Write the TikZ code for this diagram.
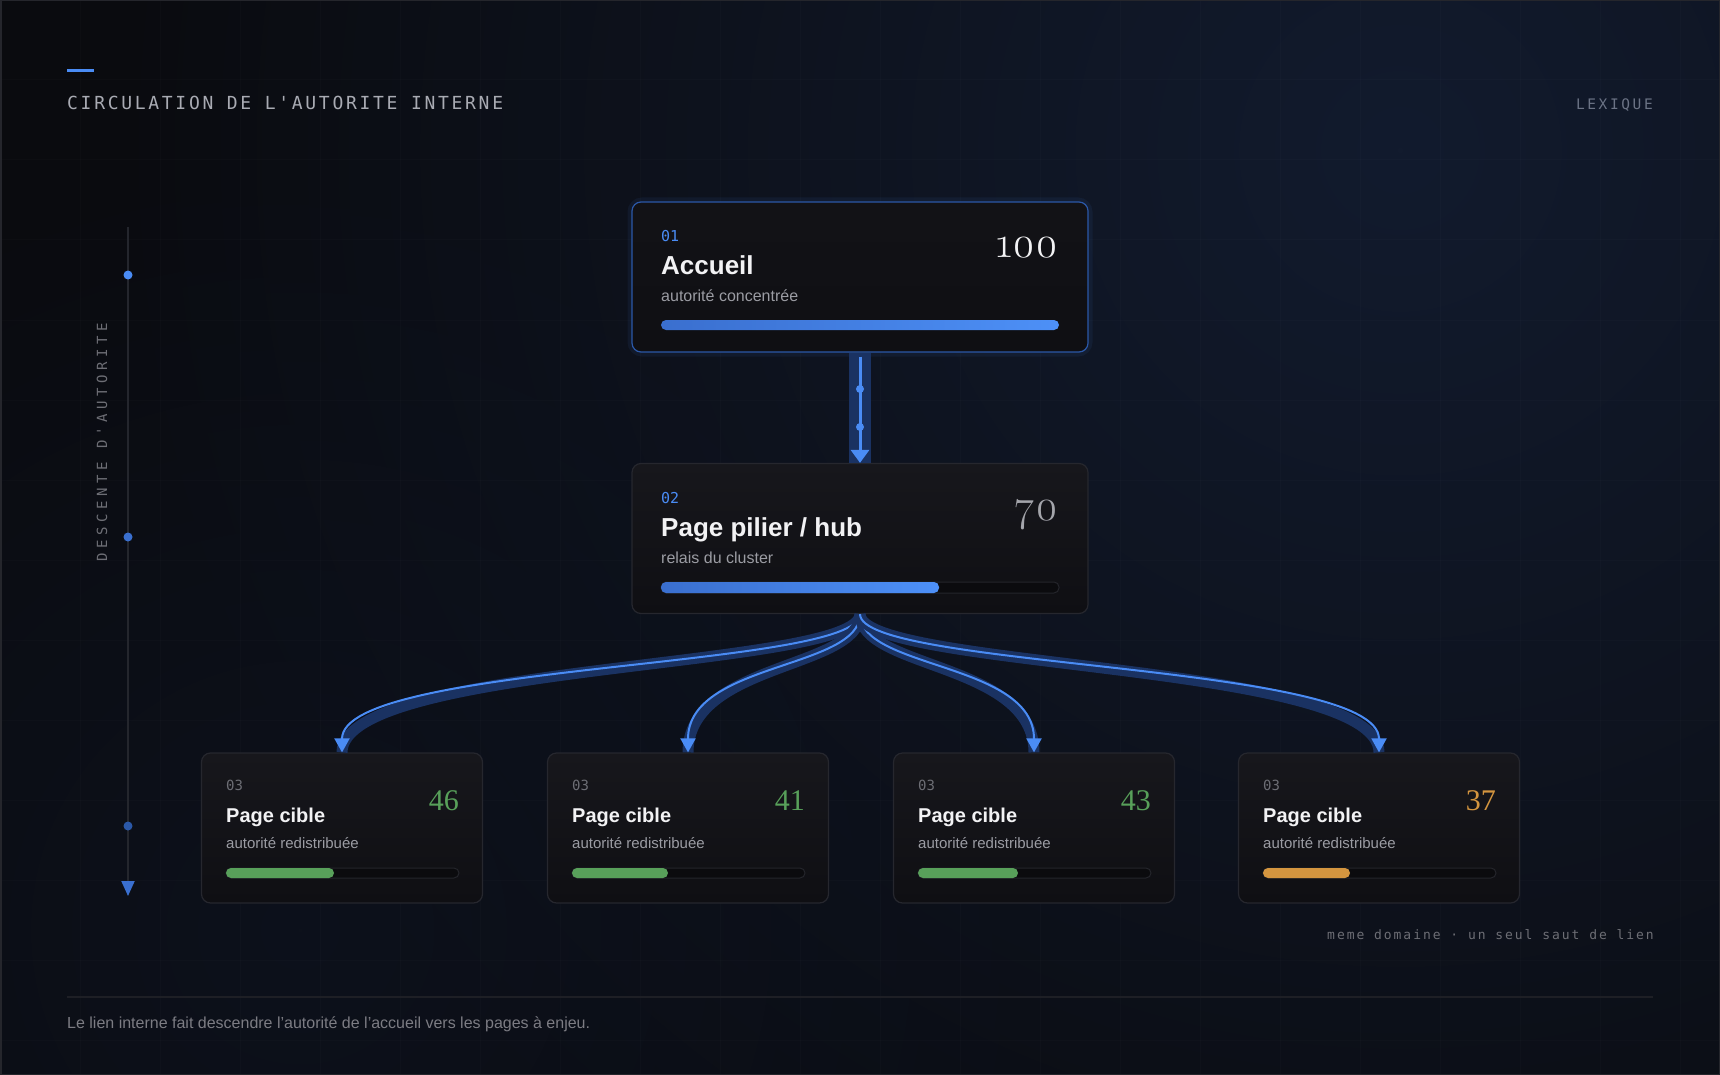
\documentclass[tikz,border=0pt]{standalone}
\usepackage{fontspec}
\setmainfont{Liberation Sans}
\newfontfamily\monof{DejaVu Sans Mono}
\newfontfamily\titlef{DejaVu Sans Mono}[LetterSpace=15]
\newfontfamily\lexf{DejaVu Sans Mono}[LetterSpace=18]
\newfontfamily\railf{DejaVu Sans Mono}[LetterSpace=33]
\newfontfamily\notef{DejaVu Sans Mono}[LetterSpace=15]
\newfontfamily\oldnum{Latin Modern Roman}[Numbers=OldStyle]
\newfontfamily\serifnum{Liberation Serif}
\usetikzlibrary{arrows.meta,fadings}
\definecolor{bgdark}{HTML}{0A0B0F}
\definecolor{glowblue}{HTML}{121B2E}
\definecolor{glowlow}{HTML}{0F1524}
\definecolor{cardtop}{HTML}{17171C}
\definecolor{cardbot}{HTML}{0F0F13}
\definecolor{cardline}{HTML}{26272E}
\definecolor{accline}{HTML}{2B58A8}
\definecolor{accent}{HTML}{4A8CF5}
\definecolor{bandblue}{HTML}{1A3262}
\definecolor{barA}{HTML}{3A6FCF}
\definecolor{barB}{HTML}{4D90F7}
\definecolor{textmain}{HTML}{F2F2F4}
\definecolor{textsub}{HTML}{9B9CA3}
\definecolor{monogrey}{HTML}{6D6E75}
\definecolor{titlegrey}{HTML}{A9ABB3}
\definecolor{lexgrey}{HTML}{6B7385}
\definecolor{numgrey}{HTML}{A4A5AB}
\definecolor{okgreen}{HTML}{58A05A}
\definecolor{warnorange}{HTML}{D4953F}
\definecolor{trackfill}{HTML}{0B0B0E}
\definecolor{trackline}{HTML}{24252B}
\definecolor{railgrey}{HTML}{24262D}
\definecolor{edgegrey}{HTML}{25262C}
\tikzfading[name=glowfade, inner color=transparent!0, outer color=transparent!100]

\begin{document}
\begin{tikzpicture}[x=1pt, y=-1pt,
  card/.style={draw=cardline, line width=1.2pt, rounded corners=9pt, top color=cardtop, bottom color=cardbot, minimum width=456pt, minimum height=150pt, inner sep=0pt},
  small/.style={card, minimum width=281pt},
  band/.style={draw=bandblue, line width=11pt},
  core/.style={draw=accent, line width=2pt},
  tag/.style={font=\monof\fontsize{15}{18}\selectfont, anchor=base west, inner sep=0pt},
  head/.style={font=\bfseries\fontsize{26}{30}\selectfont, text=textmain, anchor=base west, inner sep=0pt},
  sub/.style={font=\fontsize{16}{19}\selectfont, text=textsub, anchor=base west, inner sep=0pt},
  bignum/.style={font=\oldnum\fontsize{44}{48}\selectfont, anchor=base east, inner sep=0pt},
  smallnum/.style={font=\serifnum\fontsize{30}{34}\selectfont, anchor=base east, inner sep=0pt},
  track/.style={draw=trackline, fill=trackfill, line width=1pt, rounded corners=5pt}]
  \useasboundingbox (0,0) rectangle (1720,1075);
  \fill[bgdark] (0,0) rectangle (1720,1075);
  \begin{scope}
    \clip (0,0) rectangle (1720,1075);
    \fill[glowblue, path fading=glowfade] (1400,150) circle (1300pt);
    \fill[glowlow, path fading=glowfade, opacity=0.6] (300,930) circle (800pt);
    \foreach \g in {80,160,...,1680} {\draw[white, opacity=0.014, line width=1pt] (\g,0) -- (\g,1075);}
    \foreach \g in {80,160,...,1040} {\draw[white, opacity=0.014, line width=1pt] (0,\g) -- (1720,\g);}
  \end{scope}
  \draw[edgegrey, line width=1.5pt] (0.75,0.75) rectangle (1719.25,1074.25);

  \draw[accent, line width=3pt] (67,71) -- (94,71);
  \node[font=\titlef\fontsize{18}{22}\selectfont, text=titlegrey, anchor=base west, inner sep=0pt] (title) at (67,110) {CIRCULATION DE L'AUTORITE INTERNE};
  \node[font=\lexf\fontsize{14.5}{18}\selectfont, text=lexgrey, anchor=base east, inner sep=0pt] (lexique) at (1653,110) {LEXIQUE};

  \coordinate (railtop) at (128,227);
  \coordinate (railend) at (128,896);
  \draw[railgrey, line width=2pt, -{Triangle[width=13pt,length=15pt,color=barA]}] (railtop) -- (railend);
  \foreach \y/\c in {275/accent, 537/barA, 826/accline} {\fill[\c] (128,\y) circle (4.5pt);}
  \node[font=\railf\fontsize{14}{17}\selectfont, text=monogrey, rotate=90, inner sep=0pt] (descent) at (102,442) {DESCENTE D'AUTORITE};

  \node[draw=accent, opacity=0.07, line width=7pt, rounded corners=11pt, minimum width=458pt, minimum height=152pt] (homeglow) at (860,277) {};
  \node[card, draw=accline, top color=cardtop!80!black, bottom color=cardbot] (home) at (860,277) {};
  \node[tag, text=accent] (home-n) at (661,242) {01};
  \node[head] (home-t) at (661,274) {Accueil};
  \node[sub] (home-s) at (661,301) {autorité concentrée};
  \node[bignum, text=textmain] (home-v) at (1059,258) {100};
  \shade[rounded corners=5pt, left color=barA, right color=barB] (661,320) rectangle (1059,330);

  \node[card] (hub) at (860,538.5) {};
  \node[tag, text=accent] (hub-n) at (661,503) {02};
  \node[head] (hub-t) at (661,536) {Page pilier / hub};
  \node[sub] (hub-s) at (661,563) {relais du cluster};
  \node[bignum, text=numgrey] (hub-v) at (1059,520) {70};
  \draw[track] (661,582) rectangle (1059,593);
  \shade[rounded corners=5pt, left color=barA, right color=barB] (661,582) rectangle (939,593);

  \draw[draw=bandblue, line width=22pt] (home.south) -- (hub.north);
  \draw[core, line width=3pt, -{Triangle[width=18pt,length=13pt]}] ([yshift=-4pt]home.south) -- (hub.north);
  \foreach \y in {389,427} {\fill[accent] (860,\y) circle (4pt);}

  \foreach \n/\x/\v/\c/\w in {c1/342/46/okgreen/108, c2/688/41/okgreen/96, c3/1034/43/okgreen/100, c4/1379/37/warnorange/87} {
    \node[small] (\n) at (\x,828) {};
    \node[tag, font=\monof\fontsize{14}{17}\selectfont, text=monogrey] (\n-n) at (\x-116,790) {03};
    \node[head, font=\bfseries\fontsize{20}{24}\selectfont] (\n-t) at (\x-116,822) {Page cible};
    \node[sub, font=\fontsize{15}{18}\selectfont] (\n-s) at (\x-116,848) {autorité redistribuée};
    \node[smallnum, text=\c] (\n-v) at (\x+117,810) {\v};
    \draw[track] (\x-116,868) rectangle (\x+117,878);
    \fill[\c, rounded corners=5pt] (\x-116,868) rectangle (\x-116+\w,878);
    \draw[band] (hub.south) .. controls +(0,55) and +(0,-90) .. (\n.north);
    \draw[core, -{Triangle[width=15pt,length=14pt]}] (hub.south) .. controls +(0,55) and +(0,-90) .. (\n.north);
  }

  \node[font=\notef\fontsize{13}{16}\selectfont, text=monogrey, anchor=base east, inner sep=0pt] (note) at (1654,939) {meme domaine · un seul saut de lien};
  \draw[cardline!70!bgdark, line width=1.2pt] (67,997) -- (1653,997);
  \node[font=\fontsize{16}{19}\selectfont, text=monogrey!90!white, anchor=base west, inner sep=0pt] (footer) at (67,1028) {Le lien interne fait descendre l'autorité de l'accueil vers les pages à enjeu.};
\end{tikzpicture}
\end{document}
